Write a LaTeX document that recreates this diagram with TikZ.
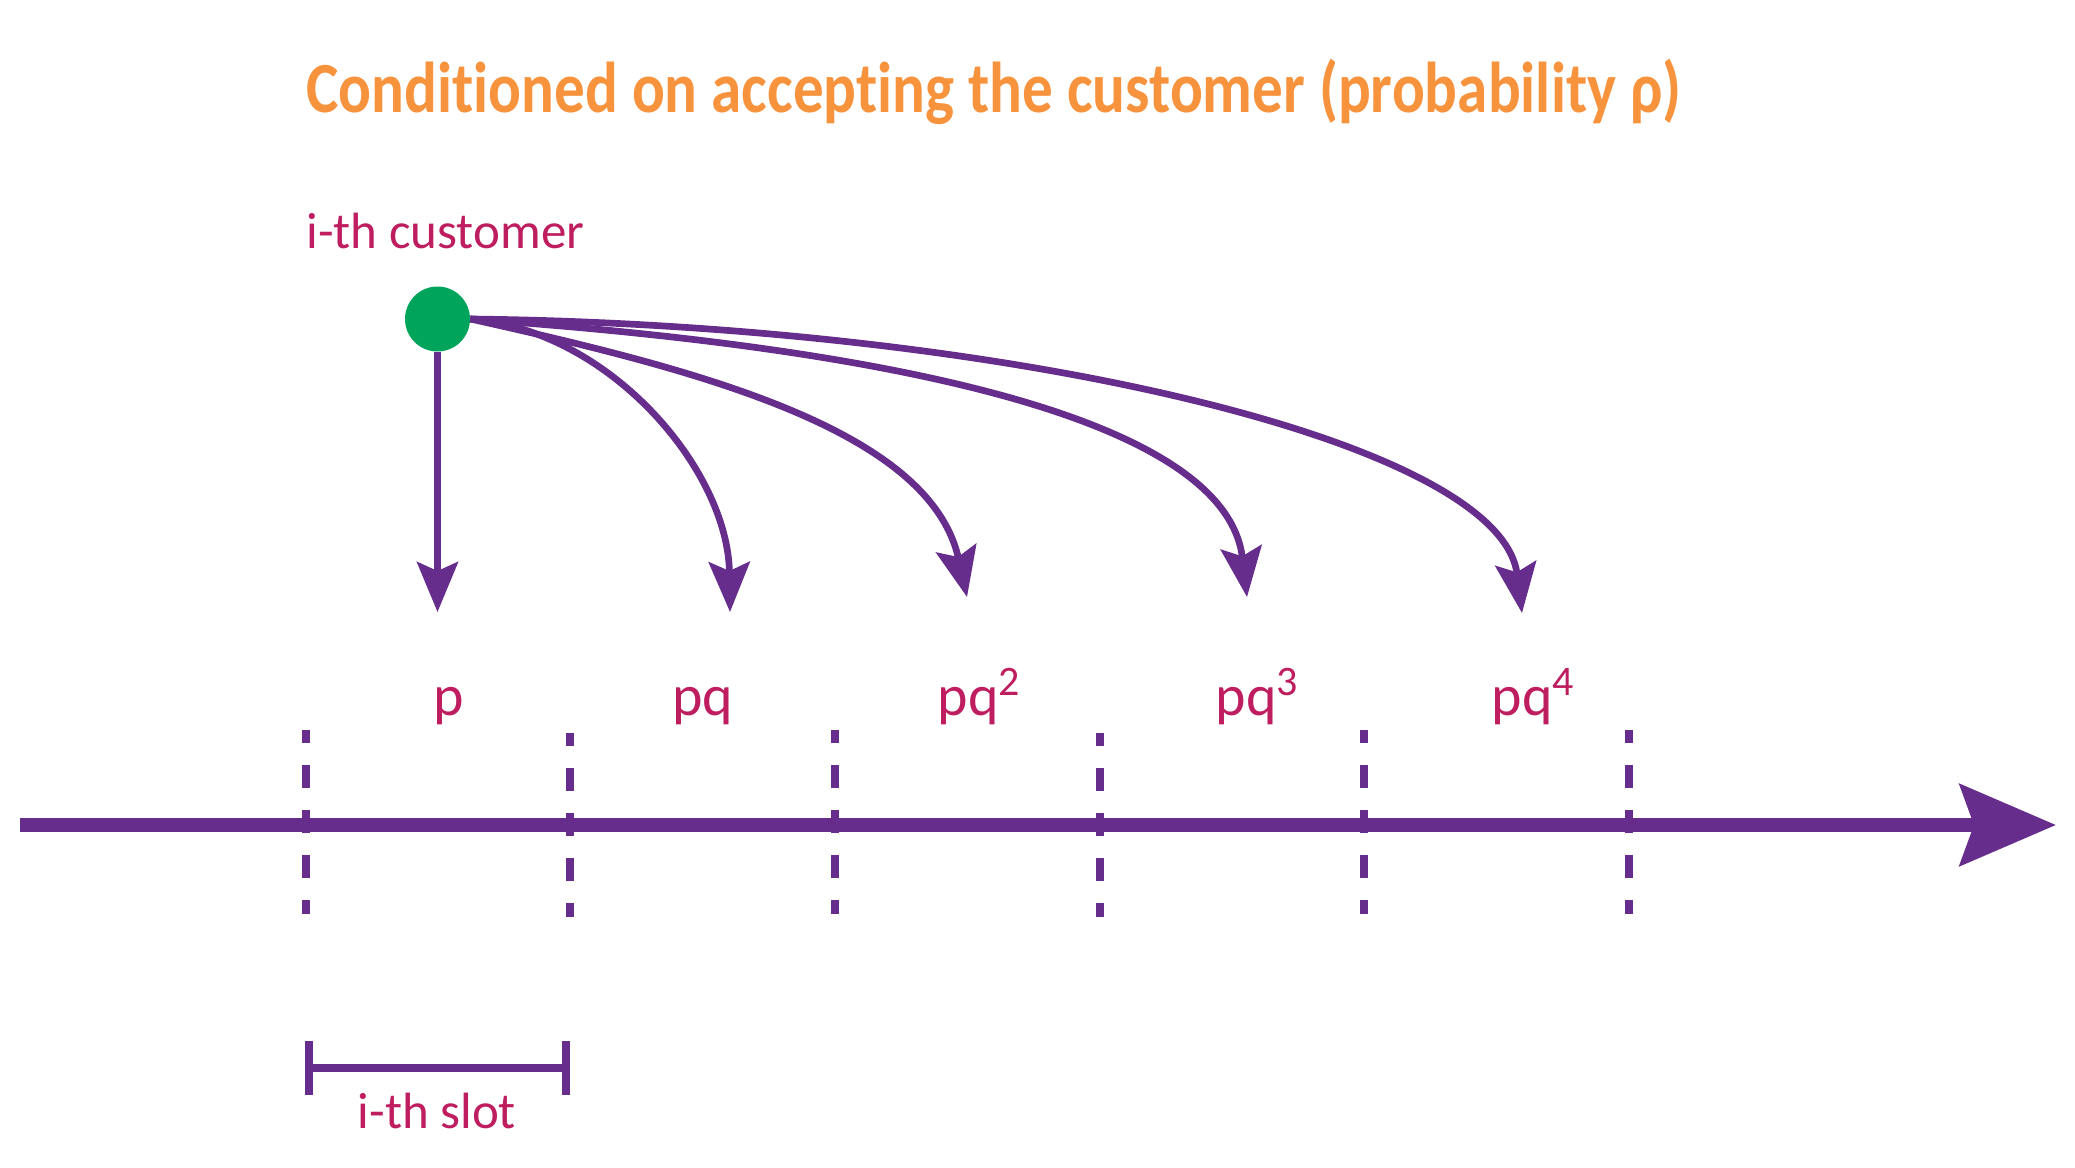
\documentclass[tikz,border=0pt]{standalone}
\usepackage{fontspec}
\setmainfont{Carlito}[Ligatures={NoCommon}]
\newfontfamily\titlefont{Carlito}[Ligatures={NoCommon}, FakeStretch=0.85]
\usetikzlibrary{arrows.meta}
\definecolor{titleorange}{RGB}{247,146,61}
\definecolor{txtpink}{RGB}{190,30,95}
\definecolor{axpurple}{RGB}{102,45,140}
\definecolor{dotgreen}{RGB}{0,164,90}
\newcommand\supdigit[1]{\raisebox{0.34em}{\fontsize{21}{21}\selectfont #1}}
\begin{document}
\begin{tikzpicture}[x=0.5pt,y=-0.5pt,
  conn/.style={draw=axpurple, line width=3.35pt, -{Stealth[length=25pt,width=20.5pt,inset=4.5pt]}},
  axisline/.style={draw=axpurple, line width=6.67pt, -{Stealth[length=48pt,width=40.5pt,inset=7pt]}},
  slotdash/.style={draw=axpurple, line width=4pt, dash pattern=on 11.35pt off 11.15pt, dash phase=5pt},
  slotbar/.style={draw=axpurple, line width=4.2pt},
  problabel/.style={text=txtpink, font=\fontsize{29}{29}\selectfont, anchor=base, inner sep=0pt},
  pinktext/.style={text=txtpink, font=\fontsize{25.5}{25.5}\selectfont, inner sep=0pt},
  titletext/.style={text=titleorange, font=\titlefont\bfseries\fontsize{36}{36}\selectfont, inner sep=0pt, anchor=base west}]
\useasboundingbox (0,0) rectangle (2075,1167);
% title
\node[titletext] (title) at (306,112) {Conditioned on accepting the customer (probability ρ)};
% customer label and dot
\node[pinktext, anchor=base west] (custlabel) at (306,248) {i-th customer};
\node[circle, fill=dotgreen, inner sep=0pt, minimum size=32.5pt] (cust) at (437.5,319) {};
% arrow targets
\coordinate (t1) at (437.5,612);
\coordinate (t2) at (730,612);
\coordinate (t3) at (967,597);
\coordinate (t4) at (1247,597);
\coordinate (t5) at (1522,613);
% connectors
\draw[conn] (cust.south) -- (t1);
\draw[conn] (cust.east) .. controls (610,330) and (728,470) .. (t2);
\draw[conn] (cust.east) .. controls (700,370) and (930,430) .. (t3);
\draw[conn] (cust.east) .. controls (850,345) and (1225,410) .. (t4);
\draw[conn] (cust.east) .. controls (1000,325) and (1500,440) .. (t5);
% probability labels
\node[problabel] (l1) at (449,715) {p};
\node[problabel] (l2) at (703,715) {pq};
\node[problabel] (l3) at (979,715) {pq\supdigit{2}};
\node[problabel] (l4) at (1257,715) {pq\supdigit{3}};
\node[problabel] (l5) at (1533,715) {pq\supdigit{4}};
% time axis
\coordinate (axstart) at (20,825);
\coordinate (axend) at (2056,825);
\draw[axisline] (axstart) -- (axend);
% slot boundaries
\foreach \x/\s in {305.5/0, 570.3/3, 835/0, 1099.7/3, 1364.3/0, 1629/0} {
  \draw[slotdash] (\x,730+\s) -- (\x,914+\s);
}
% i-th slot bracket
\coordinate (bl) at (309,1068);
\coordinate (br) at (566,1068);
\draw[slotbar] (bl) -- (br);
\draw[slotbar] (309,1041) -- (309,1095);
\draw[slotbar] (566,1041) -- (566,1095);
\node[pinktext, anchor=base] (slotlabel) at (437,1128) {i-th slot};
\end{tikzpicture}
\end{document}
